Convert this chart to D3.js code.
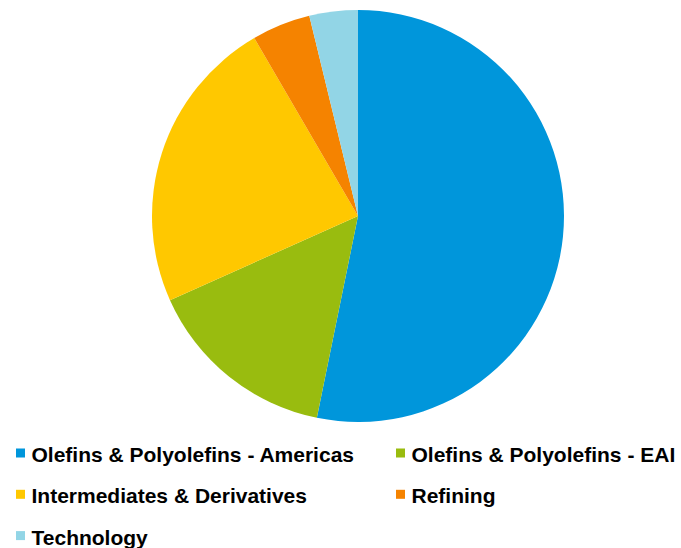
<!DOCTYPE html>
<meta charset="utf-8">
<head>
<style>
body { margin: 0; background: #fff; }
</style>
</head>
<script src="https://d3js.org/d3.v7.min.js"></script>
<div id="chart"></div>
<script>
// segment shares (%), read clockwise from 12 o'clock
var segments = ["Olefins & Polyolefins - Americas", "Olefins & Polyolefins - EAI",
                "Intermediates & Derivatives", "Refining", "Technology"];
var shares = [53.2, 15.1, 23.3, 4.6, 3.8];
var colors = ["#0096DB", "#99BC0F", "#FFC800", "#F58300", "#92D5E6"];

var width = 681, height = 548;
var cx = 358, cy = 216, radius = 206;

var svg = d3.select("#chart").append("svg")
    .attr("width", width)
    .attr("height", height);

var color = d3.scaleOrdinal().domain(segments).range(colors);

var pie = d3.pie().sort(null).value(function(d, i) { return shares[i]; });
var arc = d3.arc().innerRadius(0).outerRadius(radius);

svg.append("g")
    .attr("transform", "translate(" + cx + "," + cy + ")")
  .selectAll("path")
  .data(pie(segments))
  .enter()
  .append("path")
    .attr("d", arc)
    .attr("fill", function(d) { return color(d.data); });

// legend: two columns
var colX = [16, 396], rowY = 462, rowGap = 41.3;
var legend = svg.append("g").selectAll("g")
  .data(segments)
  .enter()
  .append("g")
    .attr("transform", function(d, i) {
      return "translate(" + colX[i % 2] + "," + (rowY + Math.floor(i / 2) * rowGap) + ")";
    });

legend.append("rect")
    .attr("x", 0).attr("y", -13.5)
    .attr("width", 9).attr("height", 9)
    .attr("fill", function(d) { return color(d); });

legend.append("text")
    .attr("x", 15.5)
    .attr("y", 0)
    .style("font-family", "'Liberation Sans', Arial, sans-serif")
    .style("font-weight", "bold")
    .style("font-size", "21px")
    .style("fill", "#000")
    .text(function(d) { return d; });
</script>
